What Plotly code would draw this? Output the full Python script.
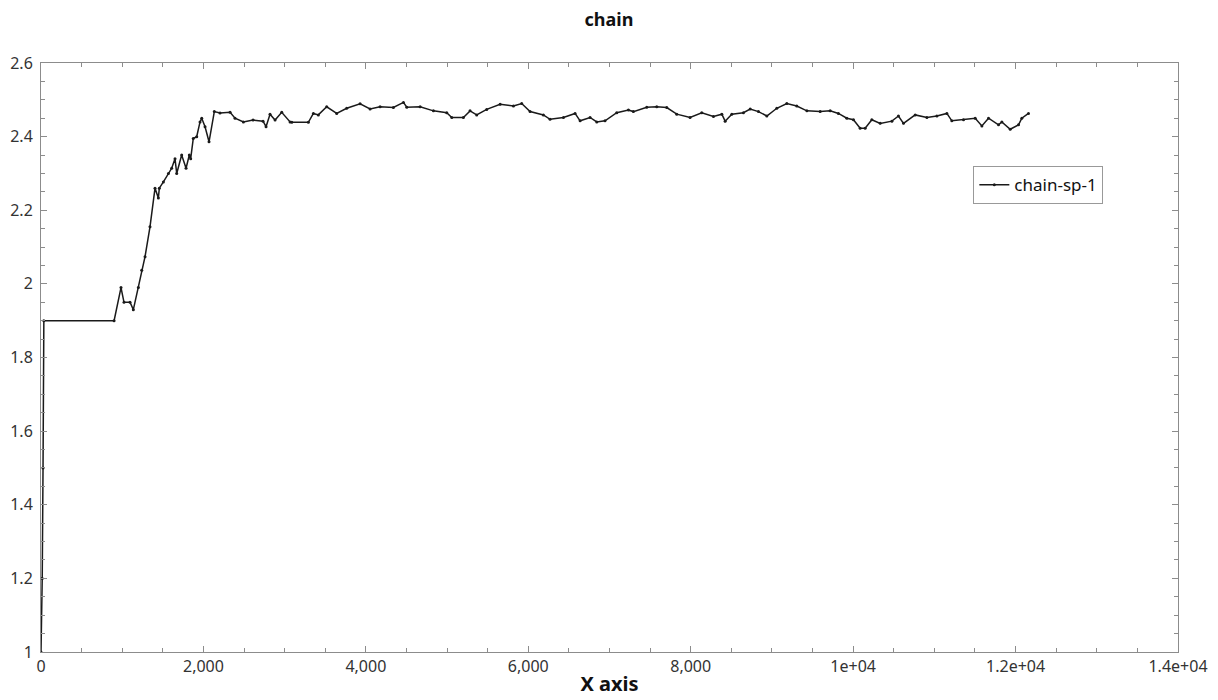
import plotly.graph_objects as go

# MCMC chain trace: iteration vs sampled value
iterations = [
    0, 15, 25, 35, 900, 985, 1022, 1096, 1137, 1199, 1240, 1281, 1342, 1404,
    1445, 1457, 1507, 1569, 1609, 1650, 1671, 1732, 1786, 1826, 1843, 1875,
    1917, 1958, 1979, 2020, 2069, 2134, 2204, 2328, 2389, 2492, 2611, 2734,
    2771, 2820, 2882, 2964, 3067, 3088, 3292, 3354, 3415, 3518, 3641, 3764,
    3929, 4052, 4175, 4339, 4463, 4504, 4668, 4832, 4996, 5058, 5201, 5283,
    5365, 5488, 5653, 5817, 5919, 6022, 6186, 6268, 6433, 6576, 6638, 6761,
    6843, 6945, 7089, 7233, 7294, 7459, 7582, 7705, 7828, 7992, 8136, 8280,
    8383, 8424, 8506, 8649, 8732, 8834, 8937, 9060, 9183, 9306, 9430, 9594,
    9717, 9819, 9922, 10004, 10086, 10148, 10230, 10333, 10477, 10558, 10620,
    10764, 10908, 11031, 11154, 11215, 11359, 11503, 11585, 11667, 11790,
    11831, 11934, 12036, 12077, 12159,
]
chain_sp_1 = [
    1.00, 1.20, 1.50, 1.90, 1.90, 1.99, 1.95, 1.95, 1.93, 1.99, 2.037, 2.074,
    2.155, 2.26, 2.233, 2.26, 2.277, 2.30, 2.314, 2.34, 2.30, 2.35, 2.314,
    2.35, 2.34, 2.395, 2.40, 2.44, 2.45, 2.427, 2.386, 2.468, 2.464, 2.466,
    2.45, 2.44, 2.445, 2.442, 2.427, 2.461, 2.445, 2.466, 2.44, 2.439, 2.439,
    2.463, 2.459, 2.481, 2.463, 2.477, 2.489, 2.475, 2.481, 2.479, 2.493,
    2.48, 2.481, 2.47, 2.465, 2.452, 2.452, 2.47, 2.459, 2.474, 2.488, 2.483,
    2.49, 2.468, 2.459, 2.447, 2.452, 2.463, 2.443, 2.452, 2.44, 2.443,
    2.465, 2.472, 2.468, 2.48, 2.481, 2.479, 2.461, 2.452, 2.465, 2.455,
    2.461, 2.442, 2.461, 2.465, 2.475, 2.468, 2.456, 2.477, 2.49, 2.483,
    2.47, 2.468, 2.47, 2.463, 2.45, 2.446, 2.423, 2.423, 2.446, 2.436, 2.442,
    2.456, 2.436, 2.459, 2.452, 2.456, 2.463, 2.443, 2.446, 2.45, 2.429,
    2.45, 2.432, 2.44, 2.42, 2.432, 2.45, 2.463,
]

x_tick_vals = [0, 2000, 4000, 6000, 8000, 10000, 12000, 14000]
x_tick_text = ["0", "2,000", "4,000", "6,000", "8,000", "1e+04", "1.2e+04", "1.4e+04"]
y_tick_vals = [1, 1.2, 1.4, 1.6, 1.8, 2, 2.2, 2.4, 2.6]
y_tick_text = ["1", "1.2", "1.4", "1.6", "1.8", "2", "2.2", "2.4", "2.6"]

FONT = "Noto Sans"
AXIS_GRAY = "#8c8c8c"

fig = go.Figure()
fig.add_trace(go.Scatter(
    x=iterations,
    y=chain_sp_1,
    mode="lines+markers",
    name="chain-sp-1",
    line=dict(color="#1a1a1a", width=1.5),
    marker=dict(color="#1a1a1a", size=3),
))

axis_common = dict(
    showline=True,
    linecolor=AXIS_GRAY,
    linewidth=1,
    mirror="ticks",
    ticks="inside",
    ticklen=6,
    tickcolor=AXIS_GRAY,
    showgrid=False,
    zeroline=False,
    automargin=False,
    tickfont=dict(family=FONT, size=16, color="#333333"),
)

fig.update_xaxes(
    **axis_common,
    range=[0, 14000],
    tickvals=x_tick_vals,
    ticktext=x_tick_text,
    minor=dict(dtick=500, ticks="inside", ticklen=4, tickcolor=AXIS_GRAY, showgrid=False),
    title=dict(text="<b>X axis</b>", font=dict(family=FONT, size=20, color="#111111"),
               standoff=0),
)
fig.update_yaxes(
    **axis_common,
    range=[1, 2.6],
    tickvals=y_tick_vals,
    ticktext=y_tick_text,
    ticklabelstandoff=4,
    minor=dict(dtick=0.05, ticks="inside", ticklen=4, tickcolor=AXIS_GRAY, showgrid=False),
)

fig.update_layout(
    width=1218,
    height=700,
    margin=dict(l=41, r=40, t=63, b=48),
    paper_bgcolor="white",
    plot_bgcolor="white",
    title=dict(
        text="<b>chain</b>",
        x=0.5,
        xanchor="center",
        y=0.972,
        yanchor="middle",
        font=dict(family=FONT, size=18, color="#111111"),
    ),
    legend=dict(
        x=0.82,
        y=0.825,
        xanchor="left",
        yanchor="top",
        bgcolor="white",
        bordercolor="#999999",
        borderwidth=1,
        font=dict(family=FONT, size=17, color="#111111"),
        itemwidth=30,
    ),
    showlegend=True,
)

fig.write_html("out.html")
